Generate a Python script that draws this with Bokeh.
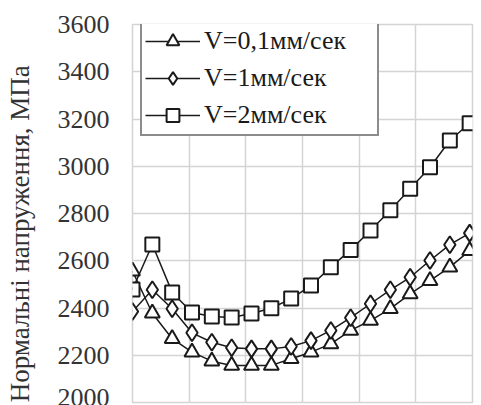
from bokeh.plotting import figure
from bokeh.models import FixedTicker, Grid, Range1d
from bokeh.embed import file_html
from bokeh.resources import INLINE

# ---- data ----
x_pos = [0, 0.35, 0.7, 1.05, 1.4, 1.75, 2.1, 2.45, 2.8, 3.15, 3.5, 3.85,
         4.2, 4.55, 4.9, 5.25, 5.6, 5.95]
v01 = [2556, 2378, 2270, 2213, 2175, 2157, 2157, 2157, 2185, 2213, 2248, 2305,
       2347, 2397, 2460, 2516, 2573, 2643]
v1 = [2385, 2477, 2397, 2295, 2255, 2232, 2227, 2227, 2237, 2262, 2305, 2359,
      2418, 2477, 2530, 2601, 2668, 2717]
v2 = [2478, 2669, 2466, 2381, 2364, 2360, 2377, 2399, 2440, 2495, 2573, 2646,
      2728, 2814, 2905, 2996, 3109, 3182]
labels = ["V=0,1мм/сек", "V=1мм/сек", "V=2мм/сек"]
y_ticks = [2000, 2200, 2400, 2600, 2800, 3000, 3200, 3400, 3600]
x_grid = [0, 1, 2, 3, 4, 5, 6]
y_title = "Нормальні напруження, МПа"

FONT = "'Liberation Serif', 'Times New Roman', serif"
INK = "#1a1a1a"
GRID = "#d4d4d4"

p = figure(width=476, height=405, output_backend="svg", toolbar_location=None,
           x_range=Range1d(0, 6), y_range=Range1d(2000, 3600),
           x_axis_location=None, min_border_left=132, min_border_top=24,
           min_border_bottom=3, min_border_right=4)
p.outline_line_color = GRID
p.outline_line_width = 1.5
p.background_fill_color = "white"
p.border_fill_color = "white"

p.ygrid.grid_line_color = GRID
p.ygrid.grid_line_width = 1.5
p.yaxis.ticker = FixedTicker(ticks=y_ticks)
p.ygrid.ticker = FixedTicker(ticks=y_ticks)
p.add_layout(Grid(dimension=0, ticker=FixedTicker(ticks=x_grid),
                  grid_line_color=GRID, grid_line_width=1.5))

ax = p.yaxis[0]
ax.axis_line_color = None
ax.major_tick_line_color = None
ax.minor_tick_line_color = None
ax.major_tick_out = 0
ax.major_tick_in = 0
ax.major_label_standoff = 23
ax.major_label_text_font = FONT
ax.major_label_text_font_size = "26px"
ax.major_label_text_color = "#333333"
# trailing no-break spaces push the centred title down, as in the original
ax.axis_label = y_title + "\u00a0" * 6
ax.axis_label_standoff = 20
ax.axis_label_text_font = FONT
ax.axis_label_text_font_size = "27px"
ax.axis_label_text_font_style = "normal"
ax.axis_label_text_color = "#333333"

series = [(v01, "triangle", 15), (v1, "diamond", 17), (v2, "square", 14)]
for (vals, mk, sz), lab in zip(series, labels):
    p.line(x_pos, vals, line_color=INK, line_width=1.5, legend_label=lab)
    p.scatter(x_pos, vals, marker=mk, size=sz, fill_color="white",
              line_color=INK, line_width=2, legend_label=lab)

lg = p.legend[0]
lg.location = (8, 266)
lg.border_line_color = INK
lg.border_line_width = 2
lg.padding = 3
lg.spacing = 5
lg.margin = 0
lg.label_text_font = FONT
lg.label_text_font_size = "26px"
lg.label_text_color = INK
lg.label_height = 32
lg.glyph_height = 32
lg.glyph_width = 55
lg.label_standoff = 4
lg.label_width = 170
lg.background_fill_alpha = 1

open("out.html", "w").write(file_html(p, INLINE))
